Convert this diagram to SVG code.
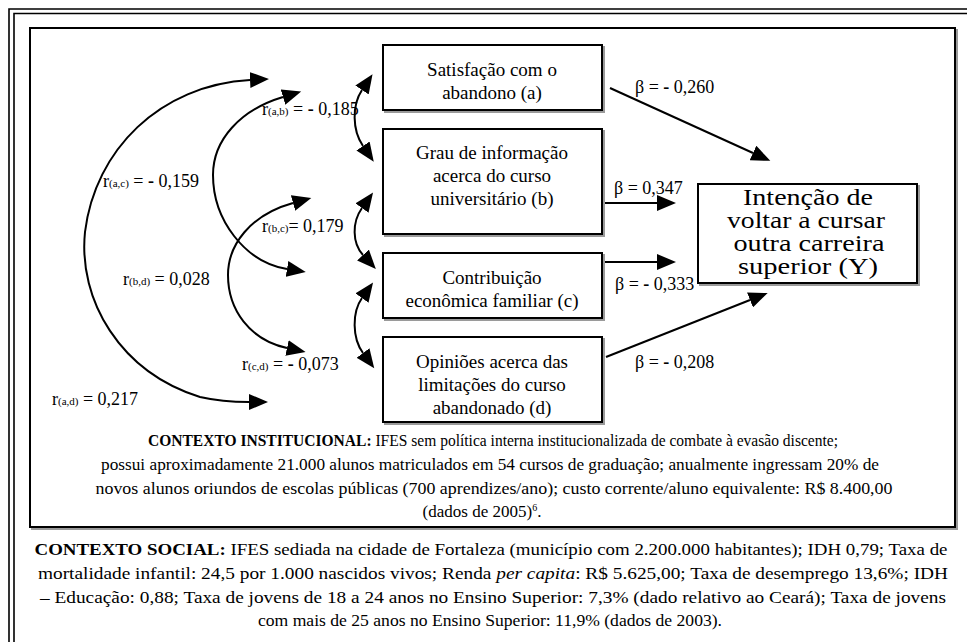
<svg xmlns="http://www.w3.org/2000/svg" width="967" height="642" viewBox="0 0 967 642">
<defs>
<style>
.frame{fill:none;stroke:#000;stroke-width:1.6}
.box{fill:#fff;stroke:#000;stroke-width:2}
.shadow{fill:none;stroke:#9a9a9a;stroke-width:2}
.nt{font-size:19px;text-anchor:middle}
.yt{font-size:23px;text-anchor:middle}
.lb{font-size:18px}
.sub{font-size:11px}
.dash{font-weight:bold}
.ct{font-size:17px;text-anchor:middle}
.conn{fill:none;stroke:#000;stroke-width:2}
</style>
<marker id="ah" markerUnits="userSpaceOnUse" markerWidth="20" markerHeight="16" refX="0" refY="8" orient="auto-start-reverse" viewBox="0 0 20 16">
<path d="M0,0 L19,8 L0,16 z" fill="#000"/>
</marker>
</defs>
<rect width="967" height="642" fill="#fff"/>
<g id="frame">
<path class="frame" d="M9,642 V9 H967"/>
<path class="frame" d="M14,642 V13.5 H967"/>
<rect class="shadow" x="32" y="30" width="925" height="499"/>
<rect class="box" x="30" y="28" width="925" height="499"/>
</g>
<g id="connectors">
<path class="conn" d="M250,80 C160,85 95,150 85,232 C78,300 120,372 200,397 C222,402 240,402 249,402" marker-start="url(#ah)" marker-end="url(#ah)"/>
<path class="conn" d="M283,97 C240,110 213,140 213,175 C213,220 245,262 287,269" marker-start="url(#ah)" marker-end="url(#ah)"/>
<path class="conn" d="M293,203 C250,215 228,245 228,275 C228,310 250,340 287,348" marker-start="url(#ah)" marker-end="url(#ah)"/>
<path class="conn" d="M362,90 C352,105 352,130 363,146" marker-start="url(#ah)" marker-end="url(#ah)"/>
<path class="conn" d="M362,208 C352,222 352,243 363,255" marker-start="url(#ah)" marker-end="url(#ah)"/>
<path class="conn" d="M362,298 C352,312 352,338 363,353" marker-start="url(#ah)" marker-end="url(#ah)"/>
<path class="conn" d="M610,88 L753,153" marker-end="url(#ah)"/>
<path class="conn" d="M600,203 L657,203" marker-end="url(#ah)"/>
<path class="conn" d="M600,262 L657,262" marker-end="url(#ah)"/>
<path class="conn" d="M606,357 L750,300" marker-end="url(#ah)"/>
</g>
<g id="labels" font-family="Liberation Serif, DejaVu Serif, Noto Serif, serif">
<text class="lb" x="262" y="115">r<tspan class="sub">(a,b)</tspan> = <tspan class="dash">-</tspan> 0,185</text>
<text class="lb" x="103" y="187">r<tspan class="sub">(a,c)</tspan>  = <tspan class="dash">-</tspan> 0,159</text>
<text class="lb" x="262" y="232">r<tspan class="sub">(b,c)</tspan>= 0,179</text>
<text class="lb" x="123" y="285">r<tspan class="sub">(b,d)</tspan>  = 0,028</text>
<text class="lb" x="242" y="370">r<tspan class="sub">(c,d)</tspan>  = <tspan class="dash">-</tspan> 0,073</text>
<text class="lb" x="52" y="405">r<tspan class="sub">(a,d)</tspan>  = 0,217</text>
<text class="lb" x="635" y="93">β = <tspan class="dash">-</tspan> 0,260</text>
<text class="lb" x="614" y="194">β = 0,347</text>
<text class="lb" x="615" y="290">β = <tspan class="dash">-</tspan> 0,333</text>
<text class="lb" x="635" y="368">β = <tspan class="dash">-</tspan> 0,208</text>
</g>
<g id="node-a" font-family="Liberation Serif, DejaVu Serif, Noto Serif, serif">
<rect class="shadow" x="385" y="47" width="219" height="65"/>
<rect class="box" x="383" y="45" width="219" height="65"/>
<text class="nt" x="492" y="76">Satisfação com o</text>
<text class="nt" x="492" y="99">abandono (a)</text>
</g>
<g id="node-b" font-family="Liberation Serif, DejaVu Serif, Noto Serif, serif">
<rect class="shadow" x="385" y="131" width="219" height="105"/>
<rect class="box" x="383" y="129" width="219" height="105"/>
<text class="nt" x="492" y="159">Grau de informação</text>
<text class="nt" x="492" y="182">acerca do curso</text>
<text class="nt" x="492" y="205">universitário (b)</text>
</g>
<g id="node-c" font-family="Liberation Serif, DejaVu Serif, Noto Serif, serif">
<rect class="shadow" x="385" y="255" width="219" height="65"/>
<rect class="box" x="383" y="253" width="219" height="65"/>
<text class="nt" x="492" y="284">Contribuição</text>
<text class="nt" x="492" y="307">econômica familiar (c)</text>
</g>
<g id="node-d" font-family="Liberation Serif, DejaVu Serif, Noto Serif, serif">
<rect class="shadow" x="385" y="339" width="219" height="85"/>
<rect class="box" x="383" y="337" width="219" height="85"/>
<text class="nt" x="492" y="368">Opiniões acerca das</text>
<text class="nt" x="492" y="391">limitações do curso</text>
<text class="nt" x="492" y="414">abandonado (d)</text>
</g>
<g id="node-y" font-family="Liberation Serif, DejaVu Serif, Noto Serif, serif">
<rect class="shadow" x="700" y="186" width="219" height="99"/>
<rect class="box" x="698" y="184" width="219" height="99"/>
<text class="yt" x="808" y="205" textLength="130" lengthAdjust="spacingAndGlyphs">Intenção de</text>
<text class="yt" x="806" y="228" textLength="158" lengthAdjust="spacingAndGlyphs">voltar a cursar</text>
<text class="yt" x="809" y="251" textLength="151" lengthAdjust="spacingAndGlyphs">outra carreira</text>
<text class="yt" x="808" y="274" textLength="140" lengthAdjust="spacingAndGlyphs">superior (Y)</text>
</g>
<g id="institutional" font-family="Liberation Serif, DejaVu Serif, Noto Serif, serif">
<text class="ct" x="493" y="446" textLength="690" lengthAdjust="spacingAndGlyphs"><tspan font-weight="bold">CONTEXTO INSTITUCIONAL:</tspan> IFES sem política interna institucionalizada de combate à evasão discente;</text>
<text class="ct" x="490" y="470" textLength="778" lengthAdjust="spacingAndGlyphs">possui aproximadamente 21.000 alunos matriculados em 54 cursos de graduação; anualmente ingressam 20% de</text>
<text class="ct" x="494" y="494" textLength="797" lengthAdjust="spacingAndGlyphs">novos alunos oriundos de escolas públicas (700 aprendizes/ano); custo corrente/aluno equivalente: R$ 8.400,00</text>
<text class="ct" x="482" y="517">(dados de 2005)<tspan font-size="10" dy="-6">6</tspan><tspan dy="6">.</tspan></text>
</g>
<g id="social" font-family="Liberation Serif, DejaVu Serif, Noto Serif, serif">
<text class="ct" x="491" y="555" textLength="913" lengthAdjust="spacingAndGlyphs"><tspan font-weight="bold">CONTEXTO SOCIAL:</tspan> IFES sediada na cidade de Fortaleza (município com 2.200.000 habitantes); IDH 0,79; Taxa de</text>
<text class="ct" x="493" y="579" textLength="910" lengthAdjust="spacingAndGlyphs">mortalidade infantil: 24,5 por 1.000 nascidos vivos; Renda <tspan font-style="italic">per capita</tspan>: R$ 5.625,00; Taxa de desemprego 13,6%; IDH</text>
<text class="ct" x="493" y="603" textLength="906" lengthAdjust="spacingAndGlyphs">– Educação: 0,88; Taxa de jovens de 18 a 24 anos no Ensino Superior: 7,3% (dado relativo ao Ceará); Taxa de jovens</text>
<text class="ct" x="490" y="626" textLength="464" lengthAdjust="spacingAndGlyphs">com mais de 25 anos no Ensino Superior: 11,9% (dados de 2003).</text>
</g>
</svg>
